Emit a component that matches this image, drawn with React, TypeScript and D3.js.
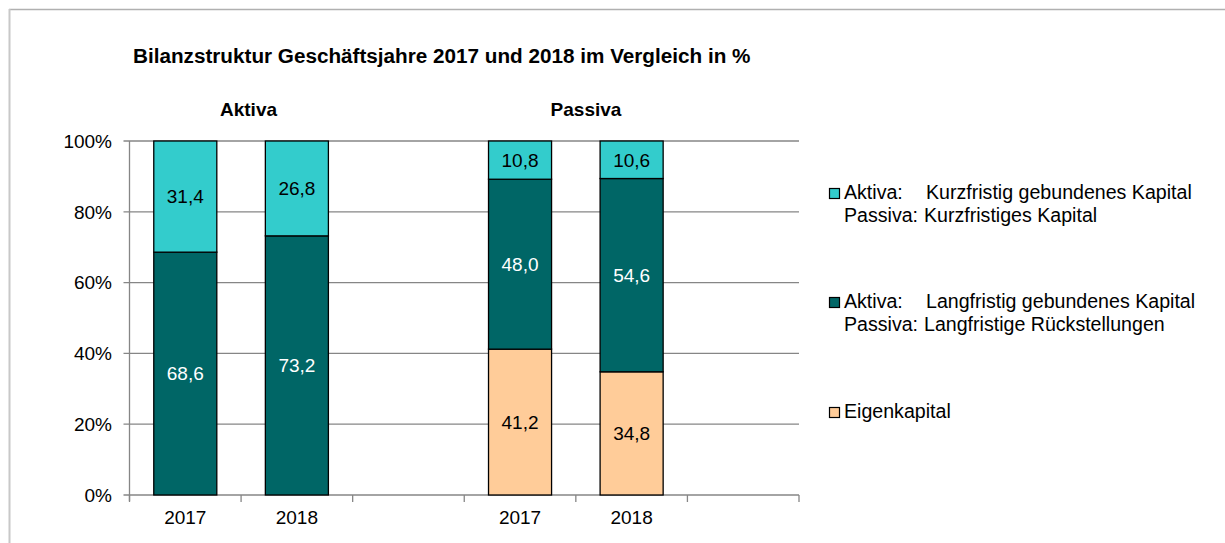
import React from "react";
import * as d3 from "d3";

// Slots on the category axis (empty slot after each group)
const slotIds = ["A2017", "A2018", "Agap", "P2017", "P2018", "Pgap"];
const slotLabels = ["2017", "2018", "", "2017", "2018", ""];

// Series values in % (bottom to top)
const eigenkapital = [0, 0, 0, 41.2, 34.8, 0];
const langfristig = [68.6, 73.2, 0, 48.0, 54.6, 0];
const kurzfristig = [31.4, 26.8, 0, 10.8, 10.6, 0];

const yTicks = [0, 20, 40, 60, 80, 100];

const seriesKeys = ["eigen", "lang", "kurz"];
const seriesColors: Record<string, string> = {
  eigen: "#FFCC99",
  lang: "#006666",
  kurz: "#33CCCC",
};
const labelColors: Record<string, string> = {
  eigen: "#000",
  lang: "#fff",
  kurz: "#000",
};

const legendItems = [
  { key: "kurz", lines: [["Aktiva:", "Kurzfristig gebundenes Kapital"], ["Passiva:", "Kurzfristiges Kapital"]] },
  { key: "lang", lines: [["Aktiva:", "Langfristig gebundenes Kapital"], ["Passiva:", "Langfristige Rückstellungen"]] },
  { key: "eigen", lines: [["Eigenkapital", ""]] },
];

const FONT = "'Liberation Sans', Arial, sans-serif";

export default function App() {
  const width = 1225;
  const height = 543;
  const plot = { left: 129.5, right: 799, top: 141, bottom: 495 };

  const x = d3.scaleBand<string>().domain(slotIds).range([plot.left, plot.right]).padding(0);
  const y = d3.scaleLinear().domain([0, 100]).range([plot.bottom, plot.top]);
  const barW = x.bandwidth() * 0.565;

  const rows = slotIds.map((id, i) => ({
    id,
    eigen: eigenkapital[i],
    lang: langfristig[i],
    kurz: kurzfristig[i],
  }));
  const stacked = d3.stack<any>().keys(seriesKeys)(rows);

  const gridColor = "#868686";
  const boundaries = slotIds.map((id) => x(id)!).concat([plot.right]);

  return (
    <svg
      width={width}
      height={height}
      style={{ position: "absolute", left: 0, top: 0, background: "#fff" }}
      fontFamily={FONT}
    >
      {/* outer frame */}
      <line x1={9} x2={width} y1={9.5} y2={9.5} stroke="#b0b0b0" strokeWidth={1.5} />
      <line x1={9.5} x2={9.5} y1={9} y2={height} stroke="#c8c8c8" strokeWidth={2} />

      <text x={133} y={63} fontSize={20.7} fontWeight="bold" fill="#000">
        Bilanzstruktur Geschäftsjahre 2017 und 2018 im Vergleich in %
      </text>
      <text x={248.5} y={116} fontSize={19} fontWeight="bold" textAnchor="middle">
        Aktiva
      </text>
      <text x={586} y={116} fontSize={19} fontWeight="bold" textAnchor="middle">
        Passiva
      </text>

      {/* gridlines + y axis */}
      {yTicks.map((t) => (
        <g key={t}>
          <line x1={plot.left - 6} x2={plot.right} y1={y(t)} y2={y(t)} stroke={gridColor} strokeWidth={1.3} />
          <text x={112} y={y(t)} dy="0.36em" fontSize={19} textAnchor="end" fill="#000">
            {t}%
          </text>
        </g>
      ))}
      <line x1={plot.left} x2={plot.left} y1={plot.top} y2={plot.bottom + 6} stroke={gridColor} strokeWidth={1.3} />
      {boundaries.map((bx, i) => (
        <line key={i} x1={bx} x2={bx} y1={plot.bottom} y2={plot.bottom + 7} stroke={gridColor} strokeWidth={1.3} />
      ))}
      {slotIds.map((id, i) => (
        <text key={id} x={x(id)! + x.bandwidth() / 2} y={524} fontSize={19} textAnchor="middle">
          {slotLabels[i]}
        </text>
      ))}

      {/* bars */}
      {stacked.map((s) => (
        <g key={s.key}>
          {s.map((d, i) => {
            const v = d[1] - d[0];
            if (v <= 0) return null;
            const cx = x(slotIds[i])! + x.bandwidth() / 2;
            return (
              <rect
                key={i}
                x={cx - barW / 2}
                y={y(d[1])}
                width={barW}
                height={y(d[0]) - y(d[1])}
                fill={seriesColors[s.key]}
                stroke="#000"
                strokeWidth={1.3}
              />
            );
          })}
        </g>
      ))}
      {stacked.map((s) => (
        <g key={s.key + "-lbl"}>
          {s.map((d, i) => {
            const v = d[1] - d[0];
            if (v <= 0) return null;
            const cx = x(slotIds[i])! + x.bandwidth() / 2;
            return (
              <text
                key={i}
                x={cx}
                y={(y(d[0]) + y(d[1])) / 2}
                dy="0.36em"
                fontSize={19}
                textAnchor="middle"
                fill={labelColors[s.key]}
              >
                {d3.format(".1f")(v).replace(".", ",")}
              </text>
            );
          })}
        </g>
      ))}

      {/* legend */}
      {legendItems.map((item, gi) => {
        const baseY = [199, 308, 418][gi];
        return (
          <g key={item.key}>
            <rect x={829.5} y={baseY - 10.5} width={10} height={10} fill={seriesColors[item.key]} stroke="#000" strokeWidth={1.2} />
            {item.lines.map((ln, li) => (
              <g key={li}>
                <text x={844} y={baseY + li * 23} fontSize={19.6}>
                  {ln[0]}
                </text>
                {ln[1] && (
                  <text x={li === 0 ? 926 : 924} y={baseY + li * 23} fontSize={19.6}>
                    {ln[1]}
                  </text>
                )}
              </g>
            ))}
          </g>
        );
      })}
    </svg>
  );
}
